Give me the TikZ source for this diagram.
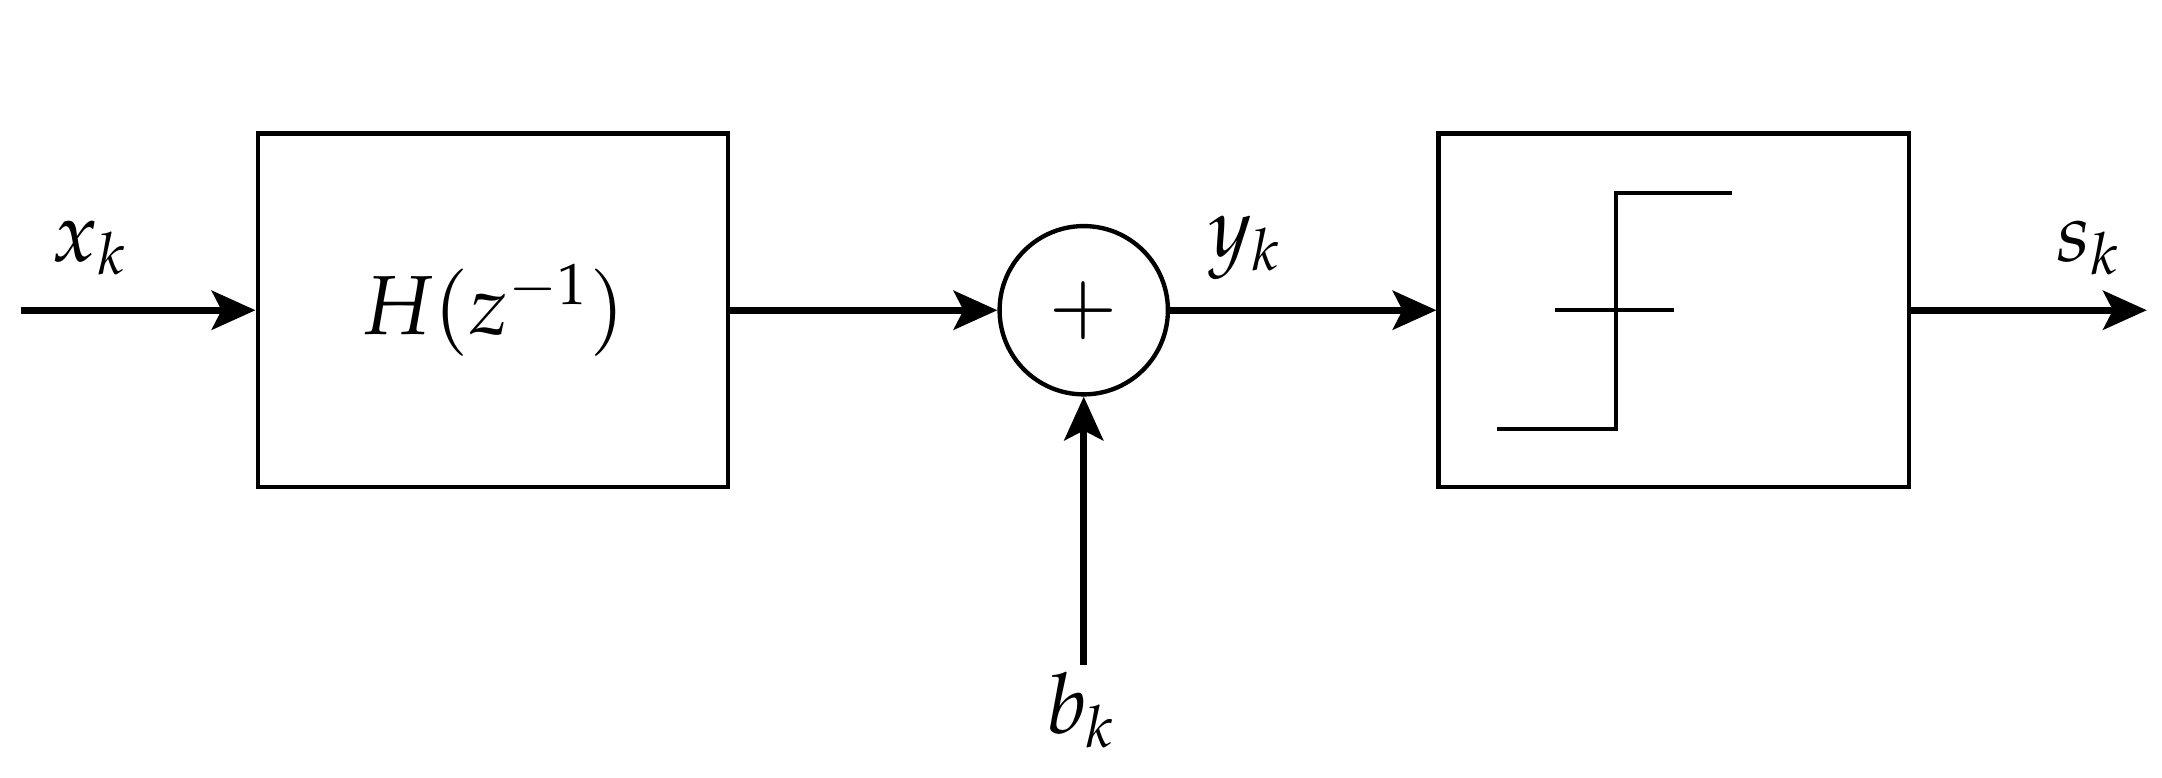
\documentclass[tikz,border=0pt]{standalone}
\usepackage{mathpazo}
\usetikzlibrary{arrows.meta}
\begin{document}
\begin{tikzpicture}[x=0.01cm,y=-0.01cm,
 blk/.style={draw,line width=0.9pt,minimum width=3.41cm,minimum height=2.56cm,inner sep=0},
 sig/.style={line width=1.5pt,-{Stealth[length=9pt,width=8pt,inset=2pt]}},
 lbl/.style={font=\LARGE}]
\useasboundingbox (0,0) rectangle (1568,564);
\node[blk] (h) at (357.5,225) {\LARGE $H(z^{-1})$};
\node[draw,circle,line width=0.9pt,minimum size=1.22cm,inner sep=0] (s) at (786,225) {\LARGE $+$};
\node[blk] (q) at (1214,225) {};
\coordinate (in) at (15,225);
\coordinate (out) at (1557,225);
\coordinate (b) at (786,482);
\draw[sig] (in) -- (h);
\draw[sig] (h) -- (s);
\draw[sig] (s) -- (q);
\draw[sig] (q) -- (out);
\draw[sig] (b) -- (s);
\node[lbl] (xk) at (65,180) {$x_k$};
\node[lbl] (yk) at (903,180) {$y_k$};
\node[lbl] (sk) at (1515,180) {$s_k$};
\node[lbl] (bk) at (784,515) {$b_k$};
\draw[line width=0.9pt] (1128,225) -- (1214,225);
\draw[line width=0.9pt] (1086,311) -- (1172,311) -- (1172,140) -- (1256,140);
\end{tikzpicture}
\end{document}
